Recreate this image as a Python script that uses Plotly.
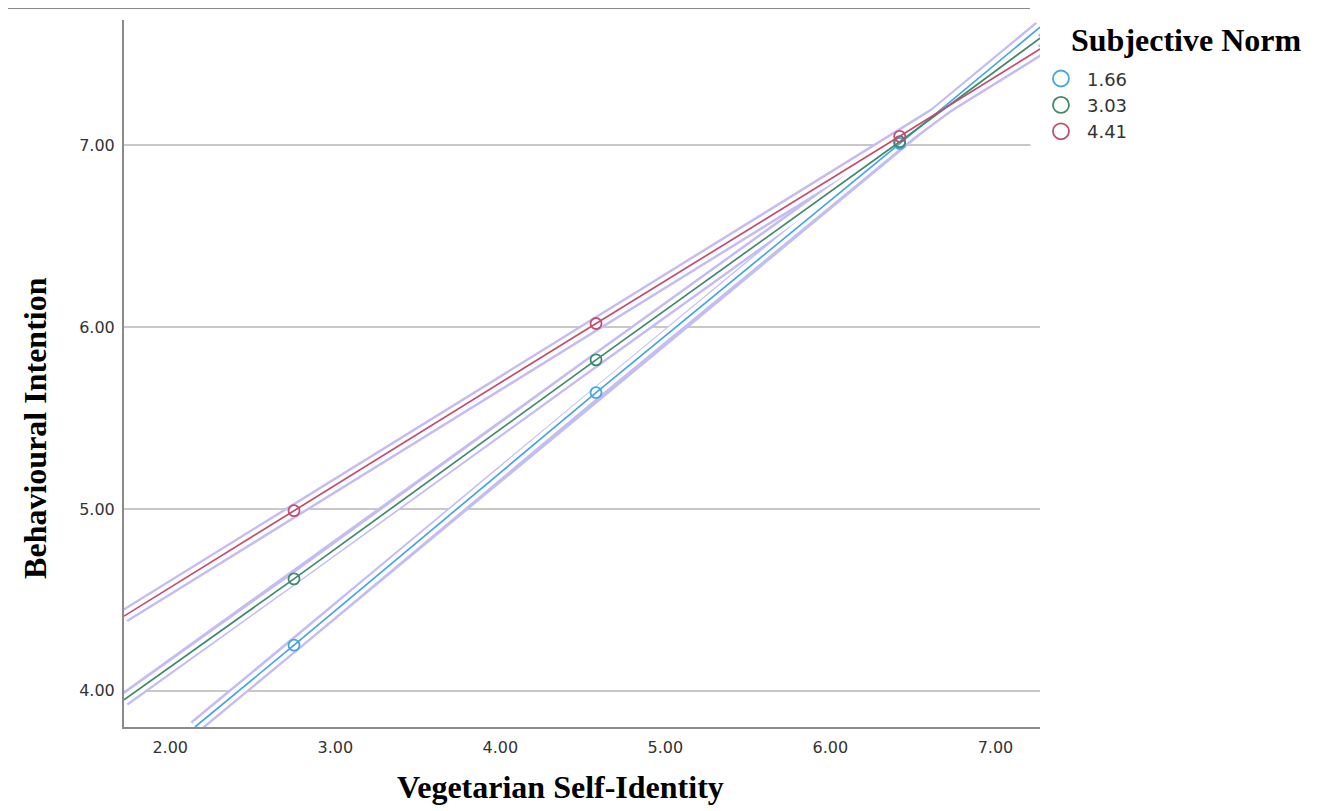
import plotly.graph_objects as go

# Data
series_names = ["1.66", "3.03", "4.41"]
series_colors = ["#45a5e3", "#3f8a6c", "#c24d6d"]
# marker points (at -1SD, mean, +1SD of self-identity)
point_x = [2.75, 4.58, 6.42]
blue_pts = [4.25, 5.64, 7.01]
green_pts = [4.615, 5.82, 7.02]
red_pts = [4.99, 6.02, 7.05]
# full fitted line extents
blue_line_x = [2.15, 2.75, 4.58, 6.42, 7.27]
blue_line_y = [3.80, 4.25, 5.64, 7.01, 7.65]
green_line_x = [1.72, 2.75, 4.58, 6.42, 7.27]
green_line_y = [3.95, 4.615, 5.82, 7.02, 7.59]
red_line_x = [1.72, 2.75, 4.58, 6.42, 7.27]
red_line_y = [4.41, 4.99, 6.02, 7.05, 7.53]

x_ticks = [2, 3, 4, 5, 6, 7]
x_ticklabels = ["2.00", "3.00", "4.00", "5.00", "6.00", "7.00"]
y_ticks = [4, 5, 6, 7]
y_ticklabels = ["4.00", "5.00", "6.00", "7.00"]

lines = [
    (blue_line_x, blue_line_y, blue_pts),
    (green_line_x, green_line_y, green_pts),
    (red_line_x, red_line_y, red_pts),
]

fig = go.Figure()

# selection halo (lavender outline with white interior)
for lx, ly, _ in lines:
    fig.add_trace(go.Scatter(x=lx, y=ly, mode="lines",
                             line=dict(color="#c4bdf3", width=14),
                             showlegend=False, hoverinfo="skip"))
for lx, ly, _ in lines:
    fig.add_trace(go.Scatter(x=lx, y=ly, mode="lines",
                             line=dict(color="white", width=9),
                             showlegend=False, hoverinfo="skip"))

for (lx, ly, pts), name, col in zip(lines, series_names, series_colors):
    fig.add_trace(go.Scatter(x=lx, y=ly, mode="lines",
                             line=dict(color=col, width=1.7),
                             showlegend=False, hoverinfo="skip"))
    fig.add_trace(go.Scatter(x=point_x, y=pts, mode="markers",
                             marker=dict(symbol="circle-open", size=11, color=col,
                                         line=dict(width=1.8, color=col)),
                             showlegend=False, name=name))
    # legend entry
    fig.add_trace(go.Scatter(x=[None], y=[None], mode="markers", name=name,
                             marker=dict(symbol="circle-open", size=16, color=col,
                                         line=dict(width=1.8, color=col))))

serif = "Liberation Serif"
fig.update_layout(
    width=1320, height=811,
    margin=dict(l=116, r=288, t=12, b=92),
    paper_bgcolor="white", plot_bgcolor="white",
    xaxis=dict(range=[1.72, 7.27], tickvals=x_ticks, ticktext=x_ticklabels,
               showgrid=False, zeroline=False, showline=True, linecolor="#8a8a8a",
               linewidth=2, ticks="", ticklabelstandoff=5,
               tickfont=dict(family="DejaVu Sans", size=16, color="#333")),
    yaxis=dict(range=[3.80, 7.69], tickvals=y_ticks, ticktext=y_ticklabels,
               showgrid=True, gridcolor="#c8c8c8", gridwidth=2, zeroline=False,
               showline=True, linecolor="#8a8a8a", linewidth=2, ticks="",
               ticklabelstandoff=4,
               tickfont=dict(family="DejaVu Sans", size=16, color="#333")),
    legend=dict(x=0.9945, y=0.943, xanchor="left", yanchor="top",
                font=dict(family="DejaVu Sans", size=18, color="#333"),
                itemwidth=42, tracegroupgap=0, bgcolor="rgba(0,0,0,0)"),
    annotations=[
        dict(text="<b>Subjective Norm</b>", xref="paper", yref="paper",
             x=1.0317, y=0.9717, xanchor="left", yanchor="middle", showarrow=False,
             font=dict(family=serif, size=32, color="black")),
        dict(text="<b>Vegetarian Self-Identity</b>", xref="paper", yref="paper",
             x=0.476, y=-0.0849, xanchor="center", yanchor="middle", showarrow=False,
             font=dict(family=serif, size=32, color="black")),
        dict(text="<b>Behavioural Intention</b>", xref="paper", yref="paper",
             x=-0.0972, y=0.423, xanchor="center", yanchor="middle", showarrow=False,
             textangle=-90, font=dict(family=serif, size=32, color="black")),
    ],
    shapes=[
        dict(type="line", xref="paper", yref="paper", x0=-0.136, x1=0.989,
             y0=1.017, y1=1.017, line=dict(color="#888", width=2)),
        dict(type="rect", xref="paper", yref="paper", x0=0.9895, x1=1.012,
             y0=0.738, y1=0.83, fillcolor="white", line=dict(width=0), layer="above"),
    ],
)

fig.write_html("out.html")
